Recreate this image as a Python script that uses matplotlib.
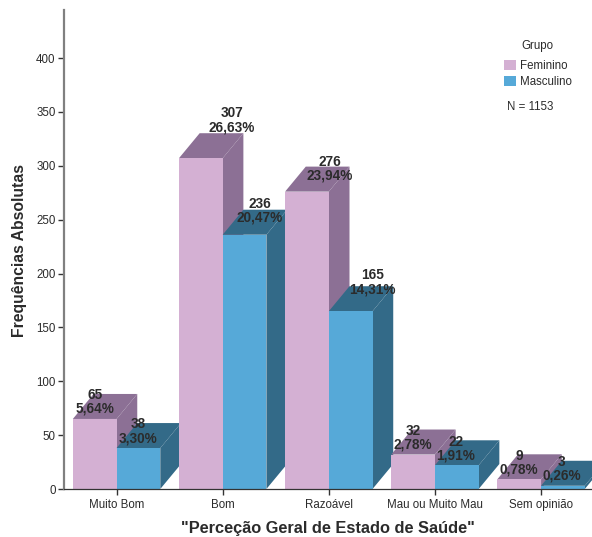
import matplotlib
matplotlib.use("Agg")
import matplotlib.pyplot as plt
from matplotlib.patches import Polygon, Rectangle

plt.rcParams["font.family"] = ["Liberation Sans", "DejaVu Sans"]

categories = ["Muito Bom", "Bom", "Razoável", "Mau ou Muito Mau", "Sem opinião"]
feminino = [65, 307, 276, 32, 9]
masculino = [38, 236, 165, 22, 3]
pct_feminino = ["5,64%", "26,63%", "23,94%", "2,78%", "0,78%"]
pct_masculino = ["3,30%", "20,47%", "14,31%", "1,91%", "0,26%"]
y_ticks = [0, 50, 100, 150, 200, 250, 300, 350, 400]

# label offsets from the top-centre of each bar's front face, in pixels
offset_fem = [(0, 3), (31, 24), (23, 9), (0, 3), (0, 3)]
offset_mas = [(0, 3), (15, 10), (22, 15), (-1, 3), (-1, 3)]

W, H = 592, 537
BAR_W = 0.412
DEPTH_X = 0.195
DEPTH_Y = 23.2
PX_Y = 431 / 400

COL_FEM, COL_FEM_DARK = "#D4B0D3", "#8C7095"
COL_MAS, COL_MAS_DARK = "#56A9D8", "#336A88"
TEXT = "#2B2B2B"

fig = plt.figure(figsize=(W / 100, H / 100), dpi=100, facecolor="white")
ax = fig.add_axes([63.5 / W, 1 - 489 / H, (W - 63.5) / W, 479 / H])
ax.set_xlim(-0.5, 4.48)
ax.set_ylim(0, 479 / PX_Y)


def bar3d(x0, value, front, dark, order):
    x1 = x0 + BAR_W
    top = [(x0, value), (x1, value), (x1 + DEPTH_X, value + DEPTH_Y), (x0 + DEPTH_X, value + DEPTH_Y)]
    side = [(x1, 0), (x1 + DEPTH_X, DEPTH_Y), (x1 + DEPTH_X, value + DEPTH_Y), (x1, value)]
    ax.add_patch(Polygon(top, closed=True, fc=dark, ec="none", zorder=order, clip_on=False))
    ax.add_patch(Polygon(side, closed=True, fc=dark, ec="none", zorder=order, clip_on=False))
    ax.add_patch(Rectangle((x0, 0), BAR_W, value, fc=front, ec="none", zorder=order + 0.5))


def bar_label(xc, value, pct, offset):
    ax.annotate(f"{value}\n{pct}", (xc, value),
                xytext=(offset[0] * 0.72, offset[1] * 0.72), textcoords="offset points",
                ha="center", va="bottom", fontsize=9.8, fontweight="bold", color=TEXT,
                linespacing=0.98, zorder=20, annotation_clip=False)


for i in range(len(categories)):
    bar3d(i - BAR_W, feminino[i], COL_FEM, COL_FEM_DARK, 2 + 2 * i)
    bar3d(i, masculino[i], COL_MAS, COL_MAS_DARK, 3 + 2 * i)

for i in range(len(categories)):
    bar_label(i - BAR_W / 2, feminino[i], pct_feminino[i], offset_fem[i])
    bar_label(i + BAR_W / 2, masculino[i], pct_masculino[i], offset_mas[i])

ax.set_xticks(range(len(categories)))
ax.set_xticklabels(categories)
ax.set_yticks(y_ticks)
ax.tick_params(axis="both", labelsize=8.3, labelcolor=TEXT, color="#333333",
               length=4.5, width=1, direction="out")
ax.tick_params(axis="y", pad=1.2)
ax.tick_params(axis="x", pad=3)

for name in ("top", "right"):
    ax.spines[name].set_visible(False)
ax.spines["left"].set(color="#808080", linewidth=1.6, zorder=30)
ax.spines["bottom"].set(color="#333333", linewidth=0.9, zorder=30)

fig.text(20 / W, 1 - 250 / H, "Frequências Absolutas", rotation=90, ha="center", va="center",
         fontsize=11.3, fontweight="bold", color=TEXT)
fig.text(328 / W, 1 - 528 / H, '"Perceção Geral de Estado de Saúde"', ha="center", va="center",
         fontsize=11.8, fontweight="bold", color=TEXT)

handles = [Rectangle((0, 0), 1, 1, fc=COL_FEM, ec="none"), Rectangle((0, 0), 1, 1, fc=COL_MAS, ec="none")]
fig.text(537 / W, 1 - 46 / H, "Grupo", ha="center", va="center", fontsize=8.3, color=TEXT)
leg = fig.legend(handles, ["Feminino", "Masculino"], loc="upper left",
                 bbox_to_anchor=(504 / W, 1 - 60 / H), frameon=False, fontsize=8.3,
                 labelcolor=TEXT, handlelength=1.0, handleheight=1.0, handletextpad=0.4,
                 labelspacing=0.3, borderpad=0, borderaxespad=0)
fig.text(507 / W, 1 - 107 / H, "N = 1153", ha="left", va="center", fontsize=8.3, color=TEXT)

fig.savefig("out.png", dpi=100, facecolor="white")
